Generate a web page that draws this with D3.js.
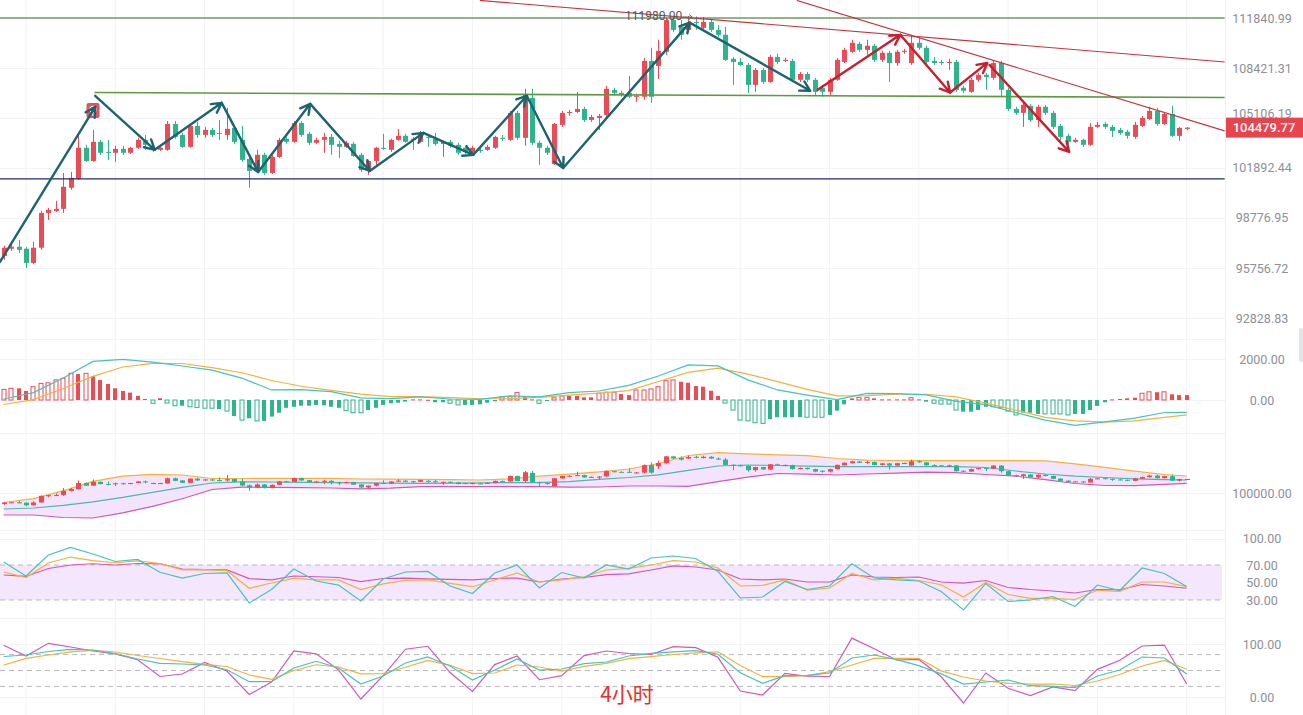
<!DOCTYPE html>
<html>
<head>
<meta charset="utf-8">
<script src="https://cdn.jsdelivr.net/npm/d3@7"></script>
<style>
  html, body { margin: 0; padding: 0; background: #fff; overflow: hidden; }
  svg { display: block; font-family: Roboto, "Noto Sans", sans-serif; }
</style>
</head>
<body>
<div id="chart"></div>
<script>
/**
 * DATA (4H candles)
 * */
const open = [
  96480, 96910, 97030, 96910, 96060, 96970, 99090, 99210, 99340, 100650,
  101210, 103180, 102340, 103560, 102920, 102860, 103110, 102860, 103180, 103690,
  103050, 103050, 103050, 104720, 104010, 103240, 104590, 104010, 104330, 104140,
  104010, 104460, 103690, 102470, 101710, 102730, 101580, 102600, 103760, 103560,
  104780, 104080, 103500, 103690, 103880, 103430, 103240, 103430, 102730, 101770,
  102340, 103180, 103050, 103690, 103950, 103760, 103560, 103880, 103760, 103430,
  103560, 103370, 103180, 102860, 103050, 103050, 103180, 103820, 103690, 105440,
  103820, 106430, 103500, 103180, 102150, 104660, 105440, 105500, 105700, 104980,
  105110, 105310, 106960, 106760, 106760, 106500, 106500, 108900, 108560, 109520,
  111700, 111230, 111020, 111570, 111160, 111570, 111020, 110680, 109040, 108830,
  108630, 107290, 108290, 107490, 109170, 108900, 108900, 107630, 108020, 107630,
  107100, 106830, 107630, 108830, 109520, 110060, 109650, 109930, 108970, 109450,
  108760, 109520, 108760, 110130, 109790, 108900, 108830, 108760, 108830, 107100,
  106830, 107630, 107960, 107760, 108760, 106960, 105700, 105440, 105900, 104980,
  105840, 105440, 104590, 103950, 103560, 103690, 103370, 104530, 104720, 104530,
  104330, 104210, 103880, 104590, 105040, 105570, 104720, 105370, 103950, 104400
];
const close = [
  96970, 97030, 96840, 96060, 96970, 99090, 99280, 99340, 100710, 101270,
  103180, 102340, 103560, 102860, 102860, 103110, 102860, 103180, 103690, 103370,
  103180, 103180, 104720, 103880, 103240, 104590, 104010, 104330, 104010, 104080,
  104400, 103560, 102410, 101710, 102730, 101580, 102600, 103690, 103560, 104780,
  104010, 103500, 103690, 103880, 103370, 103240, 103500, 102660, 101770, 102340,
  103180, 103110, 103690, 103950, 103560, 103690, 104140, 103820, 103430, 103560,
  103310, 102860, 102920, 103180, 102980, 103240, 103880, 103760, 105440, 103820,
  106630, 103500, 103180, 102860, 104720, 105440, 105500, 105700, 104980, 105170,
  105240, 107030, 106760, 106630, 106500, 106570, 108900, 106500, 109580, 111700,
  111020, 110680, 111500, 111500, 111570, 111020, 110680, 108970, 108830, 108630,
  107290, 108290, 107490, 109170, 108830, 108970, 107630, 108020, 107630, 106830,
  106830, 107630, 108970, 109650, 110130, 109650, 109930, 108970, 109450, 108760,
  109520, 109580, 110130, 109790, 108830, 108760, 108760, 108830, 106960, 106900,
  107630, 107960, 107820, 108760, 106960, 105700, 105440, 105970, 104980, 105840,
  105440, 104530, 103880, 103560, 103690, 103370, 104530, 104660, 104530, 104270,
  104140, 103950, 104660, 105110, 105570, 104720, 105370, 103950, 104460, 104479.77
];
const high = [
  97090, 97150, 97450, 97030, 97330, 99210, 99400, 99840, 101580, 101640,
  104010, 103370, 104330, 103690, 103690, 103310, 103310, 103240, 103820, 104010,
  103310, 103240, 104910, 104910, 104140, 104660, 104850, 104530, 104460, 104980,
  105770, 104590, 104590, 102730, 103050, 102860, 102730, 103820, 103880, 104910,
  104910, 104210, 103820, 104140, 104080, 103630, 103630, 103560, 102860, 102410,
  103240, 104080, 103760, 104400, 104080, 103880, 104270, 104080, 104140, 103630,
  103690, 103500, 103240, 103310, 103180, 103370, 103950, 104010, 105570, 105570,
  107030, 107030, 103630, 103310, 104780, 105570, 105640, 106830, 105840, 105310,
  105370, 107230, 107100, 106900, 107890, 106700, 109110, 109790, 110340, 111840,
  111910, 111700, 111980, 111950, 111910, 111770, 111360, 111230, 109170, 109110,
  108760, 108420, 108420, 109310, 109380, 109110, 109040, 108160, 108160, 107760,
  107290, 107760, 109110, 109790, 110340, 110200, 110340, 110060, 109580, 109580,
  109650, 109720, 110680, 110470, 109930, 109170, 108970, 109040, 108970, 107230,
  107760, 108090, 108090, 108900, 108900, 107100, 105840, 106100, 106030, 105970,
  105970, 105570, 104720, 104080, 103820, 103760, 104780, 104850, 104850, 104660,
  104460, 104330, 104850, 105240, 105840, 105770, 105500, 105900, 104530, 104520
];
const low = [
  96240, 96780, 96660, 95760, 96000, 96840, 98660, 99150, 99090, 100520,
  101140, 102280, 102280, 102730, 102410, 102280, 102730, 102790, 103110, 103050,
  102920, 102980, 102980, 103760, 103180, 103180, 103820, 103820, 103880, 103690,
  103690, 103430, 102280, 100650, 101580, 101460, 101520, 102530, 103430, 103500,
  103880, 103370, 103430, 102860, 102730, 102530, 103180, 102600, 101640, 101460,
  102080, 103050, 102920, 103630, 103500, 103050, 103500, 103240, 103310, 102600,
  103180, 102730, 102790, 102730, 102860, 102980, 103110, 103630, 103630, 103690,
  103310, 103370, 102080, 102730, 102080, 104530, 105240, 105440, 104850, 104850,
  104330, 105170, 106570, 106500, 106430, 106170, 106300, 106100, 107690, 109310,
  110880, 110340, 110880, 111020, 111020, 110880, 110540, 108900, 107290, 108560,
  106760, 106830, 107360, 107430, 108690, 108830, 107490, 107490, 107490, 106630,
  106500, 106570, 107560, 108760, 109450, 109520, 109310, 108830, 108830, 107490,
  108560, 109380, 108630, 109650, 108690, 108630, 108630, 108290, 106830, 106760,
  106760, 107490, 106960, 107630, 106500, 105570, 105310, 104530, 104850, 104530,
  105310, 104400, 103630, 103370, 103500, 103240, 103310, 104460, 104400, 103880,
  104010, 103760, 103760, 104530, 104980, 104590, 104660, 103880, 103630, 104330
];
const lastPrice = 104479.77;
const peakPrice = 111980.00;

// price axis ticks
const mainTicks = [111840.99, 108421.31, 105106.19, 101892.44, 98776.95, 95756.72, 92828.83];
const macdTicks = [2000, 0];
const bollTicks = [100000];
const rsiTicks = [100, 70, 50, 30];
const kdjTicks = [100, 0];
const kdjLevels = [80, 50, 20];

// MACD histogram, one per candle (H = hollow bar)
const macdHist = [
  520, 570, 570, 440, 650, 810, 840, 980, 1060, 1300,
  1270, 1300, 1170, 980, 780, 570, 440, 360, 200, 50,
  -160, 90, -150, -280, -280, -330, -360, -400, -400, -440,
  -540, -780, -980, -890, -1020, -1020, -810, -620, -380, -330,
  -280, -280, -240, -260, -330, -380, -520, -620, -620, -490,
  -380, -240, -160, -130, -80, 30, 30, 10, -110, -110,
  -160, -240, -240, -240, -210, -130, -60, 160, 160, 360,
  160, 30, -160, -50, 110, 200, 200, 200, 130, 130,
  330, 380, 380, 290, 240, 490, 490, 540, 650, 940,
  980, 890, 840, 680, 650, 450, 200, -150, -490, -980,
  -1020, -1110, -1140, -940, -840, -840, -840, -840, -840, -840,
  -840, -730, -520, -210, 80, 130, 130, 80, 30, 30,
  30, 30, 110, 30, -80, -160, -200, -200, -490, -570,
  -570, -490, -330, -330, -380, -540, -730, -620, -620, -680,
  -680, -680, -680, -730, -680, -680, -490, -290, -110, 30,
  50, 80, 110, 330, 400, 380, 400, 280, 240, 240
];
const macdHollow =
  "HHSSHHHHHHSHSSSSSSSSHSHHSHHHHSHSHSHSSSSSSSSSSSHHHSSSSSSSSSSSHHSSSSSHHHSSHSHHSSSSHHHSSHHHHHHSSSSSSHHHHHHSSSSSHHHSSSSHHSSSSSHSSHHHHSSSSHHHHSSSHHHHSSSSSSSSSHHSHSSS";

// smooth indicator lines, read every 4th candle
const idx4 = d3.range(0, 160, 4).concat([159]);
const dif = [50, 360, 1070, 1880, 1980, 1850, 1660, 1460, 1070, 490, 510, 410, 100, 70, 150, 50, 30, 200, 150, 360,
  440, 710, 1170, 1710, 1660, 980, 490, 240, 20, 320, 310, 250, -70, -230, -610, -980, -1240, -1070, -880, -610, -600];
const dea = [-220, 20, 560, 1150, 1610, 1790, 1780, 1580, 1330, 950, 670, 470, 290, 160, 160, 120, 60, 70, 130, 240,
  340, 460, 900, 1350, 1550, 1260, 900, 520, 200, 210, 280, 280, 150, -150, -490, -850, -1020, -1080, -1020, -850, -730];
const bollUp = [96970, 98180, 100700, 103710, 105370, 105970, 105750, 104630, 104630, 104700, 104700, 104700, 104470, 104410,
  104380, 104250, 104150, 104540, 105370, 106040, 106740, 107670, 109430, 111980, 112880, 112520, 112200, 111920, 111020,
  110480, 110380, 110320, 110320, 110320, 110320, 110290, 109300, 108210, 106970, 105910, 105430];
const bollMid = [94890, 95210, 96040, 97190, 98590, 100220, 101790, 103200, 103580, 103510, 103390, 103290, 103230, 103160,
  103100, 103160, 103230, 103290, 103290, 103640, 104350, 104950, 105810, 107220, 108630, 108950, 108790, 108590, 108400,
  108400, 108400, 108400, 108400, 108150, 107030, 106070, 105370, 104950, 104540, 104280, 104150];
const bollLow = [92970, 92970, 92170, 92010, 93640, 95750, 98150, 101120, 101890, 101790, 101730, 101600, 101310, 101530,
  102010, 102010, 102010, 102010, 102010, 101890, 101920, 102240, 102240, 102140, 103640, 105080, 106230, 106010, 105750,
  106070, 106360, 106650, 106490, 105910, 105370, 104280, 103040, 102400, 102360, 102780, 103100];

// oscillators, read every 3rd candle
const idx3 = d3.range(0, 160, 3);
const rsi6 = [73.4, 57.4, 81.4, 90, 82.6, 74, 76.3, 61.7, 55.1, 60.3, 60.9, 26.6, 42, 65.4, 51.7, 47.1, 28.9, 54, 62, 62.6,
  46, 37.4, 60.9, 70, 43.7, 61.4, 55.1, 70, 65.4, 78, 80.3, 77.4, 62.6, 32.3, 33.4, 51.1, 42, 46, 71.4, 55.1,
  52.9, 51.7, 39.7, 18.6, 48.9, 28.3, 30, 34, 22.6, 47.1, 40.9, 66.6, 60.3, 45.4];
const rsi12 = [62, 55.7, 72.3, 79.1, 75.1, 72.6, 74.6, 71.7, 64.5, 64.6, 63.5, 43.4, 49.4, 54.6, 52.9, 52.9, 42, 48.5, 52.4, 52.9,
  48.9, 45.2, 52.9, 60.9, 50.6, 52.9, 56.6, 64.3, 66.2, 70, 75.1, 73.4, 66.6, 46, 46.8, 52.9, 41.4, 43.7, 60.3, 52.9,
  54.8, 52.3, 47.4, 33.4, 50, 36.3, 31.9, 31.9, 30.6, 41.1, 39.9, 50.6, 50.6, 45.2];
const rsi24 = [58.6, 56.9, 66, 70, 71.4, 70, 71.7, 71.4, 65.3, 64.7, 64.4, 54.5, 52.9, 57.4, 56.6, 55.7, 51.1, 54.6, 54.9, 54.2,
  53.5, 52.9, 54.6, 55.1, 50.6, 54, 55.7, 59.1, 59.9, 64.3, 68.9, 67.7, 64.3, 54, 52.9, 54, 50.6, 50.6, 58.6, 56.3,
  55.7, 56.3, 50.6, 49.4, 52.3, 44.3, 42, 40.3, 38, 42, 41.7, 47.7, 46, 43.4];
const kLine = [76.4, 79.2, 85.8, 90, 88.7, 82.1, 71.7, 63.6, 62.3, 60.4, 51.5, 28.9, 28.9, 54.7, 67.4, 54.7, 24.5, 39.6, 64.2, 75.5,
  58.5, 32.1, 50.9, 71.7, 50.9, 52.8, 63, 66, 77.4, 82.3, 85.3, 87.4, 80.6, 45.7, 25.8, 40.4, 40.8, 45.3, 73.6, 79.2,
  70.6, 59.1, 43.6, 24.5, 28.3, 32.1, 21.3, 20.2, 17.7, 39.6, 50.9, 75.5, 73.6, 43.4];
const dLine = [60.4, 73, 79.2, 85.3, 88.1, 84.9, 78.3, 72.6, 66.6, 61.7, 57.5, 41.5, 33.4, 50, 60.8, 56.6, 43.8, 44.2, 56.2, 69.2,
  59.8, 44, 45.3, 60.4, 56.6, 48.7, 57.7, 63.6, 72.3, 76, 80.2, 83.2, 85.3, 59.4, 38.3, 38.3, 40.2, 47.9, 60.4, 73,
  73, 73, 49.4, 37.7, 30.2, 25.8, 24.2, 24.5, 21.7, 30.2, 42.5, 58.5, 68.9, 52.3];
const jLine = [97.5, 77.4, 101.3, 94.3, 86.8, 81.1, 70.4, 38.7, 43.4, 65.1, 49.1, 4.7, 28.3, 86.8, 81.5, 51.3, -3.8, 40.4, 90.2, 95.7,
  46.2, 10.4, 61.1, 77.4, 32.6, 40.2, 78.1, 86.8, 82.1, 80.2, 94.9, 93, 74.9, 11.3, 3.8, 44.5, 39.2, 38.7, 111.1, 91.1,
  69.8, 70.9, 38.1, -11.3, 45.3, 16.4, 2.5, 18.9, 12.1, 52.1, 69.2, 96.2, 98, 24.5];

// drawings on the price chart: [candle index, price]
const levelLines = [
  { pts: [[-1, 111841], [164.1, 111841]], color: "#2f6e1f", w: 1.2 },
  { pts: [[-1, 101207], [164.1, 101207]], color: "#1d2a6e", w: 1.2 },
  { pts: [[12.2, 106784], [164.1, 106452]], color: "#5f9a43", w: 1.6 },
  { pts: [[64, 113070], [164.1, 108830]], color: "#c4343f", w: 1.1 },
  { pts: [[106.6, 113070], [164.1, 104270]], color: "#c4343f", w: 1.1 }
];
const tealArrows = [
  [[-0.5, 96120], [12.3, 105835]],
  [[12.3, 106565], [20.3, 103048]],
  [[20.3, 103048], [29.3, 106100]],
  [[29.3, 106100], [34.2, 101643]],
  [[34.2, 101643], [41.2, 106034]],
  [[41.2, 106034], [49.2, 101705]],
  [[49.2, 101705], [56.4, 104140]],
  [[56.4, 104140], [63.1, 102727]],
  [[63.1, 102727], [70.3, 106565]],
  [[70.3, 106565], [75.2, 101892]],
  [[75.2, 101892], [92.2, 111520]],
  [[92.2, 111520], [108.4, 106896]]
];
const redArrows = [
  [[109.4, 106962], [120.5, 110678]],
  [[120.5, 110678], [127.2, 106784]],
  [[127.2, 106784], [132.2, 108763]],
  [[132.5, 108630], [143.2, 102920]]
];

/**
 * CONSTANTS
 * */
const width = 1303, height = 715;
const plotRight = 1225, axisX = 1262;
const upColor = "#eb4b55", downColor = "#2db48c";
const cTeal = "#45c3be", cOrange = "#f3b13e", cPink = "#d257b9";

const svg = d3.select("#chart").append("svg")
  .attr("width", width)
  .attr("height", height);

// scales
const x = d3.scaleLinear().domain([0, 159]).range([3.7, 1186.7]);
const yMain = d3.scaleLog().domain([95756.72, 111840.99]).range([268, 18]);
const yMacd = d3.scaleLinear().domain([0, 2000]).range([400, 359]);
const yBoll = d3.scaleLinear().domain([100000, 110000]).range([493, 461.7]);
const yRsi = d3.scaleLinear().domain([30, 70]).range([600, 565]);
const yKdj = d3.scaleLinear().domain([0, 100]).range([697, 644]);

/**
 * GRID
 * */
const grid = svg.append("g").attr("stroke", "#f1f2f4").attr("stroke-width", 1);
grid.selectAll(".vg").data(d3.range(3, 160, 12)).join("line")
  .attr("x1", d => x(d)).attr("x2", d => x(d))
  .attr("y1", 0).attr("y2", height);
const hLines = [
  ...mainTicks.map(v => yMain(v)),
  ...macdTicks.map(v => yMacd(v)),
  ...bollTicks.map(v => yBoll(v)),
  yRsi(100),
  ...kdjTicks.map(v => yKdj(v)),
  339, 433, 530, 618
];
grid.selectAll(".hg").data(hLines).join("line")
  .attr("x1", 0).attr("x2", plotRight)
  .attr("y1", d => Math.round(d) + 0.5).attr("y2", d => Math.round(d) + 0.5);
svg.append("line")
  .attr("x1", plotRight + 0.5).attr("x2", plotRight + 0.5)
  .attr("y1", 0).attr("y2", height)
  .attr("stroke", "#eceef1");

/**
 * CANDLES
 * */
const candles = d3.range(open.length).map(i => ({
  i, o: open[i], h: high[i], l: low[i], c: close[i], up: close[i] >= open[i]
}));

function drawCandles(g, y, bodyW) {
  const c = g.selectAll("g").data(candles).join("g")
    .attr("stroke", d => d.up ? upColor : downColor)
    .attr("fill", d => d.up ? upColor : downColor);
  c.append("line")
    .attr("x1", d => Math.round(x(d.i)) + 0.5).attr("x2", d => Math.round(x(d.i)) + 0.5)
    .attr("y1", d => y(d.h)).attr("y2", d => y(d.l))
    .attr("stroke-width", 1);
  c.append("rect")
    .attr("x", d => Math.round(x(d.i)) + 0.5 - bodyW / 2)
    .attr("width", bodyW)
    .attr("y", d => Math.min(y(d.o), y(d.c)))
    .attr("height", d => Math.max(1, Math.abs(y(d.o) - y(d.c))))
    .attr("stroke", "none");
}

svg.append("clipPath").attr("id", "mainClip")
  .append("rect").attr("x", 0).attr("y", 0).attr("width", plotRight).attr("height", 336);
const main = svg.append("g").attr("clip-path", "url(#mainClip)");

drawCandles(main.append("g"), yMain, 5);

// marker badge on the early high
const badge = main.append("g").attr("transform", `translate(${x(12)},${yMain(105570)})`);
badge.append("rect").attr("x", -6.5).attr("y", -8).attr("width", 13).attr("height", 15)
  .attr("rx", 2).attr("fill", "#e9505a");
badge.append("circle").attr("cx", 0).attr("cy", -1.5).attr("r", 3)
  .attr("fill", "none").attr("stroke", "#fff").attr("stroke-width", 1.4);
badge.append("line").attr("x1", 0).attr("x2", 0).attr("y1", 1.5).attr("y2", 5)
  .attr("stroke", "#fff").attr("stroke-width", 1.4);

// trend / level lines
const priceLine = d3.line().x(d => x(d[0])).y(d => yMain(d[1]));
main.selectAll(".lvl").data(levelLines).join("path")
  .attr("d", d => priceLine(d.pts))
  .attr("fill", "none")
  .attr("stroke", d => d.color)
  .attr("stroke-width", d => d.w);

// arrows
function arrowPath(seg) {
  const x0 = x(seg[0][0]), y0 = yMain(seg[0][1]);
  const x1 = x(seg[1][0]), y1 = yMain(seg[1][1]);
  const a = Math.atan2(y1 - y0, x1 - x0), len = 11, spread = 0.5;
  const ax = x1 - len * Math.cos(a - spread), ay = y1 - len * Math.sin(a - spread);
  const bx = x1 - len * Math.cos(a + spread), by = y1 - len * Math.sin(a + spread);
  return `M${x0},${y0}L${x1},${y1}M${ax},${ay}L${x1},${y1}L${bx},${by}`;
}
main.selectAll(".ta").data(tealArrows).join("path")
  .attr("d", arrowPath)
  .attr("fill", "none").attr("stroke", "#1c6470")
  .attr("stroke-width", 2.4).attr("stroke-linecap", "round").attr("stroke-linejoin", "round");
main.selectAll(".ra").data(redArrows).join("path")
  .attr("d", arrowPath)
  .attr("fill", "none").attr("stroke", "#c71f2e")
  .attr("stroke-width", 2.4).attr("stroke-linecap", "round").attr("stroke-linejoin", "round");

// peak label
const peakX = x(92), peakY = yMain(peakPrice);
main.append("text")
  .attr("x", peakX - 6).attr("y", peakY + 4.5)
  .attr("text-anchor", "end")
  .attr("font-size", 12).attr("fill", "#555")
  .text(peakPrice.toFixed(2));
main.append("path")
  .attr("d", `M${peakX - 5},${peakY + 1}L${peakX + 4},${peakY + 1}M${peakX + 1},${peakY - 1.5}L${peakX + 4},${peakY + 1}L${peakX + 1},${peakY + 3.5}`)
  .attr("fill", "none").attr("stroke", "#666").attr("stroke-width", 0.9);

/**
 * MACD
 * */
const macd = svg.append("g");
macd.selectAll("rect").data(macdHist).join("rect")
  .attr("x", (d, i) => Math.round(x(i)) - 2)
  .attr("width", 4)
  .attr("y", d => yMacd(Math.max(0, d)))
  .attr("height", d => Math.max(1, Math.abs(yMacd(d) - yMacd(0))))
  .attr("fill", (d, i) => macdHollow[i] === "H" ? "#fff" : (d >= 0 ? upColor : downColor))
  .attr("stroke", (d, i) => macdHollow[i] === "H" ? (d >= 0 ? upColor : downColor) : "none")
  .attr("stroke-width", 1);

function drawSeries(g, idx, vals, y, color, w) {
  g.append("path")
    .datum(vals.map((v, k) => [idx[k], v]))
    .attr("d", d3.line().x(d => x(d[0])).y(d => y(d[1])))
    .attr("fill", "none").attr("stroke", color).attr("stroke-width", w || 1.2);
}
drawSeries(macd, idx4, dea, yMacd, cOrange);
drawSeries(macd, idx4, dif, yMacd, cTeal);

/**
 * BOLL
 * */
const boll = svg.append("g");
boll.append("path")
  .datum(idx4.map((d, k) => [d, bollUp[k], bollLow[k]]))
  .attr("d", d3.area().x(d => x(d[0])).y0(d => yBoll(d[2])).y1(d => yBoll(d[1])))
  .attr("fill", "#f3e4fb");
drawSeries(boll, idx4, bollUp, yBoll, cOrange);
drawSeries(boll, idx4, bollMid, yBoll, "#4fb6b0");
drawSeries(boll, idx4, bollLow, yBoll, cPink);
drawCandles(boll.append("g"), yBoll, 5);

/**
 * RSI
 * */
const rsi = svg.append("g");
rsi.append("rect")
  .attr("x", 0).attr("width", plotRight - 3)
  .attr("y", yRsi(70)).attr("height", yRsi(30) - yRsi(70))
  .attr("fill", "#f4e6fc");
rsi.selectAll("line").data([70, 30]).join("line")
  .attr("x1", 0).attr("x2", plotRight - 3)
  .attr("y1", d => yRsi(d)).attr("y2", d => yRsi(d))
  .attr("stroke", "#b9b9bd").attr("stroke-dasharray", "5,4");
drawSeries(rsi, idx3, rsi24, yRsi, cPink);
drawSeries(rsi, idx3, rsi12, yRsi, cOrange);
drawSeries(rsi, idx3, rsi6, yRsi, cTeal);

/**
 * KDJ
 * */
const kdj = svg.append("g");
kdj.selectAll("line").data(kdjLevels).join("line")
  .attr("x1", 0).attr("x2", plotRight - 3)
  .attr("y1", d => yKdj(d)).attr("y2", d => yKdj(d))
  .attr("stroke", "#b9b9bd").attr("stroke-dasharray", "5,4");
drawSeries(kdj, idx3, jLine, yKdj, cPink);
drawSeries(kdj, idx3, dLine, yKdj, cOrange);
drawSeries(kdj, idx3, kLine, yKdj, cTeal);

svg.append("text")
  .attr("x", 627).attr("y", 702)
  .attr("text-anchor", "middle")
  .attr("font-family", "'Noto Sans CJK SC', 'Noto Sans', sans-serif")
  .attr("font-size", 21).attr("fill", "#e5302b")
  .text("4小时");

/**
 * AXES
 * */
function rightAxis(scale, ticks) {
  const g = svg.append("g")
    .attr("transform", `translate(${axisX},0)`)
    .call(d3.axisRight(scale).tickValues(ticks).tickSize(0).tickPadding(0).tickFormat(d3.format(".2f")));
  g.select(".domain").remove();
  g.selectAll("text")
    .attr("text-anchor", "middle")
    .attr("font-family", "Roboto, 'Noto Sans', sans-serif")
    .attr("font-size", 12.5)
    .attr("fill", "#8c9099");
  return g;
}
const mainAxis = rightAxis(yMain, mainTicks);
// the tick right above the last-price tag is nudged up so the two labels don't collide
mainAxis.selectAll(".tick")
  .filter(d => Math.abs(yMain(d) - yMain(lastPrice)) < 16)
  .select("text")
  .attr("y", -5);
rightAxis(yMacd, macdTicks);
rightAxis(yBoll, bollTicks);
rightAxis(yRsi, rsiTicks);
rightAxis(yKdj, kdjTicks);

// last price tag
const lp = svg.append("g").attr("transform", `translate(${plotRight + 1},${yMain(lastPrice)})`);
lp.append("rect").attr("x", 0).attr("y", -10).attr("width", width - plotRight - 1).attr("height", 20)
  .attr("fill", "#e8444e");
lp.append("text").attr("x", axisX - plotRight - 1 + 2).attr("y", 4.5)
  .attr("text-anchor", "middle")
  .attr("font-size", 13).attr("font-weight", 500).attr("fill", "#fff")
  .text(lastPrice.toFixed(2));

// scroll nub at the right edge
svg.append("rect").attr("x", 1299).attr("y", 328).attr("width", 4).attr("height", 34)
  .attr("rx", 2).attr("fill", "#e3e4e6");
</script>
</body>
</html>
